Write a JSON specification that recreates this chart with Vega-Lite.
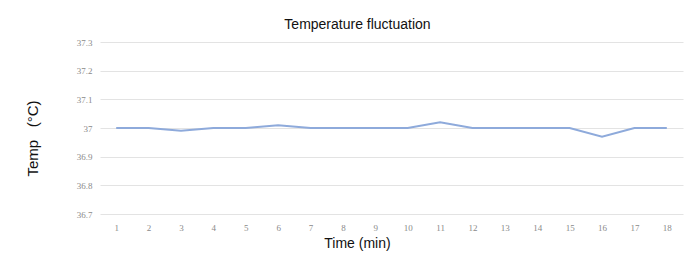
{
  "$schema": "https://vega.github.io/schema/vega-lite/v6.json",
  "width": 583,
  "height": 172,
  "autosize": {"type": "none"},
  "padding": {"left": 100, "top": 42, "right": 16, "bottom": 40},
  "background": "white",
  "title": {
    "text": "Temperature fluctuation",
    "font": "Liberation Sans",
    "fontSize": 14,
    "fontWeight": "normal",
    "color": "#111111",
    "anchor": "middle",
    "frame": "group",
    "dx": -34,
    "offset": 6
  },
  "data": {
    "values": [
      {"t": 1, "temp": 37.0},
      {"t": 2, "temp": 37.0},
      {"t": 3, "temp": 36.99},
      {"t": 4, "temp": 37.0},
      {"t": 5, "temp": 37.0},
      {"t": 6, "temp": 37.01},
      {"t": 7, "temp": 37.0},
      {"t": 8, "temp": 37.0},
      {"t": 9, "temp": 37.0},
      {"t": 10, "temp": 37.0},
      {"t": 11, "temp": 37.02},
      {"t": 12, "temp": 37.0},
      {"t": 13, "temp": 37.0},
      {"t": 14, "temp": 37.0},
      {"t": 15, "temp": 37.0},
      {"t": 16, "temp": 36.97},
      {"t": 17, "temp": 37.0},
      {"t": 18, "temp": 37.0}
    ]
  },
  "mark": {"type": "line", "color": "#8eaadb", "strokeWidth": 2},
  "encoding": {
    "x": {
      "field": "t",
      "type": "ordinal",
      "scale": {"type": "point", "padding": 0.5},
      "axis": {
        "title": "Time (min)",
        "titleFont": "Liberation Sans",
        "titleFontSize": 14,
        "titleFontWeight": "normal",
        "titleColor": "#111111",
        "titleX": 257,
        "titleY": 29,
        "titleBaseline": "middle",
        "titleAlign": "center",
        "labelAngle": 0,
        "labelFont": "Liberation Serif",
        "labelFontSize": 9,
        "labelColor": "#8a8a8a",
        "labelPadding": 9,
        "ticks": false,
        "domain": false,
        "grid": false
      }
    },
    "y": {
      "field": "temp",
      "type": "quantitative",
      "scale": {"domain": [36.7, 37.3], "nice": false, "zero": false},
      "axis": {
        "title": "Temp\u00a0\u00a0\u00a0(°C)",
        "titleFont": "Liberation Sans",
        "titleFontSize": 15,
        "titleFontWeight": "normal",
        "titleColor": "#111111",
        "titleAngle": -90,
        "titleX": -68,
        "titleY": 96,
        "titleBaseline": "middle",
        "titleAlign": "center",
        "values": [36.7, 36.8, 36.9, 37.0, 37.1, 37.2, 37.3],
        "labelExpr": "datum.value == 37 ? '37' : format(datum.value, '.1f')",
        "labelFont": "Liberation Serif",
        "labelFontSize": 9,
        "labelColor": "#8a8a8a",
        "labelPadding": 8,
        "ticks": false,
        "domain": false,
        "grid": true,
        "gridColor": "#e3e3e3",
        "gridWidth": 1
      }
    }
  },
  "config": {"view": {"stroke": null}}
}
